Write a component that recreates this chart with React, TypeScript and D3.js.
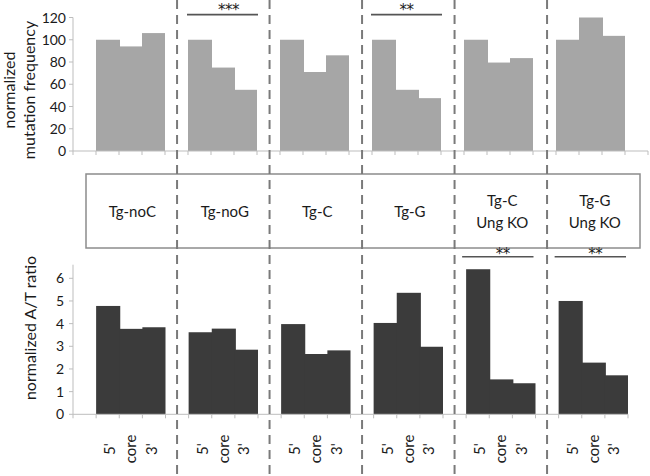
import React from "react";
import * as d3 from "d3";

const groups = ["Tg-noC", "Tg-noG", "Tg-C", "Tg-G", "Tg-C Ung KO", "Tg-G Ung KO"];
const groupLabels = [["Tg-noC"], ["Tg-noG"], ["Tg-C"], ["Tg-G"], ["Tg-C", "Ung KO"], ["Tg-G", "Ung KO"]];
const regions = ["5'", "core", "3'"];
const mutFreq = [
  [100, 94, 106],
  [100, 75, 55],
  [100, 71, 86],
  [100, 55, 47.5],
  [100, 79.5, 83.5],
  [100, 120, 103.5],
];
const atRatio = [
  [4.78, 3.77, 3.84],
  [3.62, 3.78, 2.85],
  [3.98, 2.66, 2.82],
  [4.03, 5.36, 2.98],
  [6.4, 1.54, 1.37],
  [5.0, 2.28, 1.72],
];
const topTicks = [0, 20, 40, 60, 80, 100, 120];
const bottomTicks = [0, 1, 2, 3, 4, 5, 6];
const topSig = [
  { group: 1, label: "***" },
  { group: 3, label: "**" },
];
const bottomSig = [
  { group: 4, label: "**" },
  { group: 5, label: "**" },
];

const FONT = "Lato, 'Open Sans', sans-serif";
const STAR_FONT = "'DejaVu Sans', sans-serif";

export default function App() {
  const slotsBot: string[] = [];
  groups.forEach((g) => {
    slotsBot.push(g + "|gap");
    regions.forEach((r) => slotsBot.push(g + "|" + r));
  });
  const slotsTop = [...slotsBot, "end|gap"];

  const xTop = d3.scaleBand<string>().domain(slotsTop).range([73, 648]).padding(0);
  const xBot = d3.scaleBand<string>().domain(slotsBot).range([73, 628]).padding(0);
  const yTop = d3.scaleLinear().domain([0, 120]).range([151, 17.5]);
  const yBot = d3.scaleLinear().domain([0, 6]).range([414.3, 278.3]);

  const axisCol = "#bdbdbd";
  const textCol = "#1a1a1a";

  const renderXTicks = (x: d3.ScaleBand<string>, slots: string[], y0: number) => {
    const xs = slots.map((s) => x(s) as number);
    xs.push(x.range()[1]);
    return xs.map((xx, i) => (
      <line key={"xt" + i} x1={xx} x2={xx} y1={y0} y2={y0 + 4} stroke={axisCol} strokeWidth={1} />
    ));
  };

  const groupStart = (x: d3.ScaleBand<string>, gi: number) => x(groups[gi] + "|" + regions[0]) as number;
  const groupEnd = (x: d3.ScaleBand<string>, gi: number) =>
    (x(groups[gi] + "|" + regions[2]) as number) + x.bandwidth();

  return (
    <div style={{ position: "absolute", left: 0, top: 0 }}>
      <svg width={650} height={476} style={{ display: "block", background: "#fff" }} fontFamily={FONT}>
        {/* ---------- Top chart ---------- */}
        {mutFreq.map((vals, gi) =>
          vals.map((v, ri) => {
            const slot = groups[gi] + "|" + regions[ri];
            return (
              <rect
                key={"tb" + gi + ri}
                x={xTop(slot)}
                y={yTop(v)}
                width={xTop.bandwidth() + (ri < 2 ? 1 : 0)}
                height={yTop(0) - yTop(v)}
                fill="#a6a6a6"
              />
            );
          })
        )}
        <line x1={73} x2={73} y1={yTop(120)} y2={yTop(0)} stroke={axisCol} strokeWidth={1} />
        <line x1={73} x2={648} y1={yTop(0)} y2={yTop(0)} stroke={axisCol} strokeWidth={1} />
        {topTicks.map((t) => (
          <g key={"tt" + t}>
            <line x1={69} x2={73} y1={yTop(t)} y2={yTop(t)} stroke={axisCol} />
            <text x={66} y={yTop(t)} dy="0.36em" textAnchor="end" fontSize={14} fill={textCol}>
              {t}
            </text>
          </g>
        ))}
        {renderXTicks(xTop, slotsTop, yTop(0))}
        <text transform="translate(15,90) rotate(-90)" textAnchor="middle" fontSize={16} fill={textCol}>
          normalized
        </text>
        <text transform="translate(35,90) rotate(-90)" textAnchor="middle" fontSize={16} fill={textCol}>
          mutation frequency
        </text>
        {topSig.map((s) => {
          const x1 = groupStart(xTop, s.group) - 1;
          const x2 = groupEnd(xTop, s.group) + 1;
          return (
            <g key={"ts" + s.group}>
              <line x1={x1} x2={x2} y1={14.7} y2={14.7} stroke="#555" strokeWidth={1.8} />
              <text
                x={(x1 + x2) / 2 + (s.label.length === 3 ? 6 : 0)}
                y={15}
                textAnchor="middle"
                fontSize={15}
                fontFamily={STAR_FONT}
                letterSpacing={-0.5}
                fill={textCol}
              >
                {s.label}
              </text>
            </g>
          );
        })}

        {/* ---------- Middle box ---------- */}
        <rect x={86} y={174} width={554} height={74} fill="none" stroke="#8c8c8c" strokeWidth={1.5} />
        {groupLabels.map((lines, gi) => {
          const cx = (groupStart(xBot, gi) + groupEnd(xBot, gi)) / 2 + 1.5;
          const cy = 212;
          const lh = 22;
          return lines.map((ln, li) => (
            <text
              key={"gl" + gi + li}
              x={cx}
              y={cy + (li - (lines.length - 1) / 2) * lh}
              dy="0.35em"
              textAnchor="middle"
              fontSize={15}
              fill={textCol}
            >
              {ln}
            </text>
          ));
        })}

        {/* ---------- Bottom chart ---------- */}
        {atRatio.map((vals, gi) =>
          vals.map((v, ri) => {
            const slot = groups[gi] + "|" + regions[ri];
            return (
              <rect
                key={"bb" + gi + ri}
                x={xBot(slot)}
                y={yBot(v)}
                width={xBot.bandwidth() + (ri < 2 ? 1 : 0)}
                height={yBot(0) - yBot(v)}
                fill="#3b3b3b"
              />
            );
          })
        )}
        <line x1={73} x2={73} y1={yBot(6.6)} y2={yBot(0)} stroke={axisCol} strokeWidth={1} />
        <line x1={73} x2={628} y1={yBot(0)} y2={yBot(0)} stroke={axisCol} strokeWidth={1} />
        {bottomTicks.map((t) => (
          <g key={"bt" + t}>
            <line x1={69} x2={73} y1={yBot(t)} y2={yBot(t)} stroke={axisCol} />
            <text x={64} y={yBot(t)} dy="0.36em" textAnchor="end" fontSize={14} fill={textCol}>
              {t}
            </text>
          </g>
        ))}
        {renderXTicks(xBot, slotsBot, yBot(0))}
        <text transform="translate(36,328) rotate(-90)" textAnchor="middle" fontSize={16} fill={textCol}>
          normalized A/T ratio
        </text>
        {groups.map((g, gi) =>
          regions.map((r, ri) => {
            const cx = (xBot(g + "|" + r) as number) + xBot.bandwidth() / 2 + (1 - ri) * 2.5;
            return (
              <text
                key={"xl" + gi + ri}
                transform={`translate(${cx},449) rotate(-90)`}
                textAnchor="middle"
                dy="0.35em"
                fontSize={15}
                fill={textCol}
              >
                {r}
              </text>
            );
          })
        )}
        {bottomSig.map((s) => {
          const x1 = groupStart(xBot, s.group) - 4;
          const x2 = groupEnd(xBot, s.group) - 2;
          return (
            <g key={"bs" + s.group}>
              <line x1={x1} x2={x2} y1={256.7} y2={256.7} stroke="#555" strokeWidth={1.5} />
              <text
                x={(x1 + x2) / 2 + 5}
                y={259}
                textAnchor="middle"
                fontSize={15}
                fontFamily={STAR_FONT}
                letterSpacing={-0.5}
                fill={textCol}
              >
                {s.label}
              </text>
            </g>
          );
        })}

        {/* ---------- Dashed separators ---------- */}
        {groups.slice(1).map((g, i) => {
          const x = (xBot(g + "|gap") as number) + xBot.bandwidth() / 2;
          return (
            <line key={"dl" + i} x1={x} x2={x} y1={0} y2={476} stroke="#7a7a7a" strokeWidth={2} strokeDasharray="9,6" />
          );
        })}
      </svg>
    </div>
  );
}
